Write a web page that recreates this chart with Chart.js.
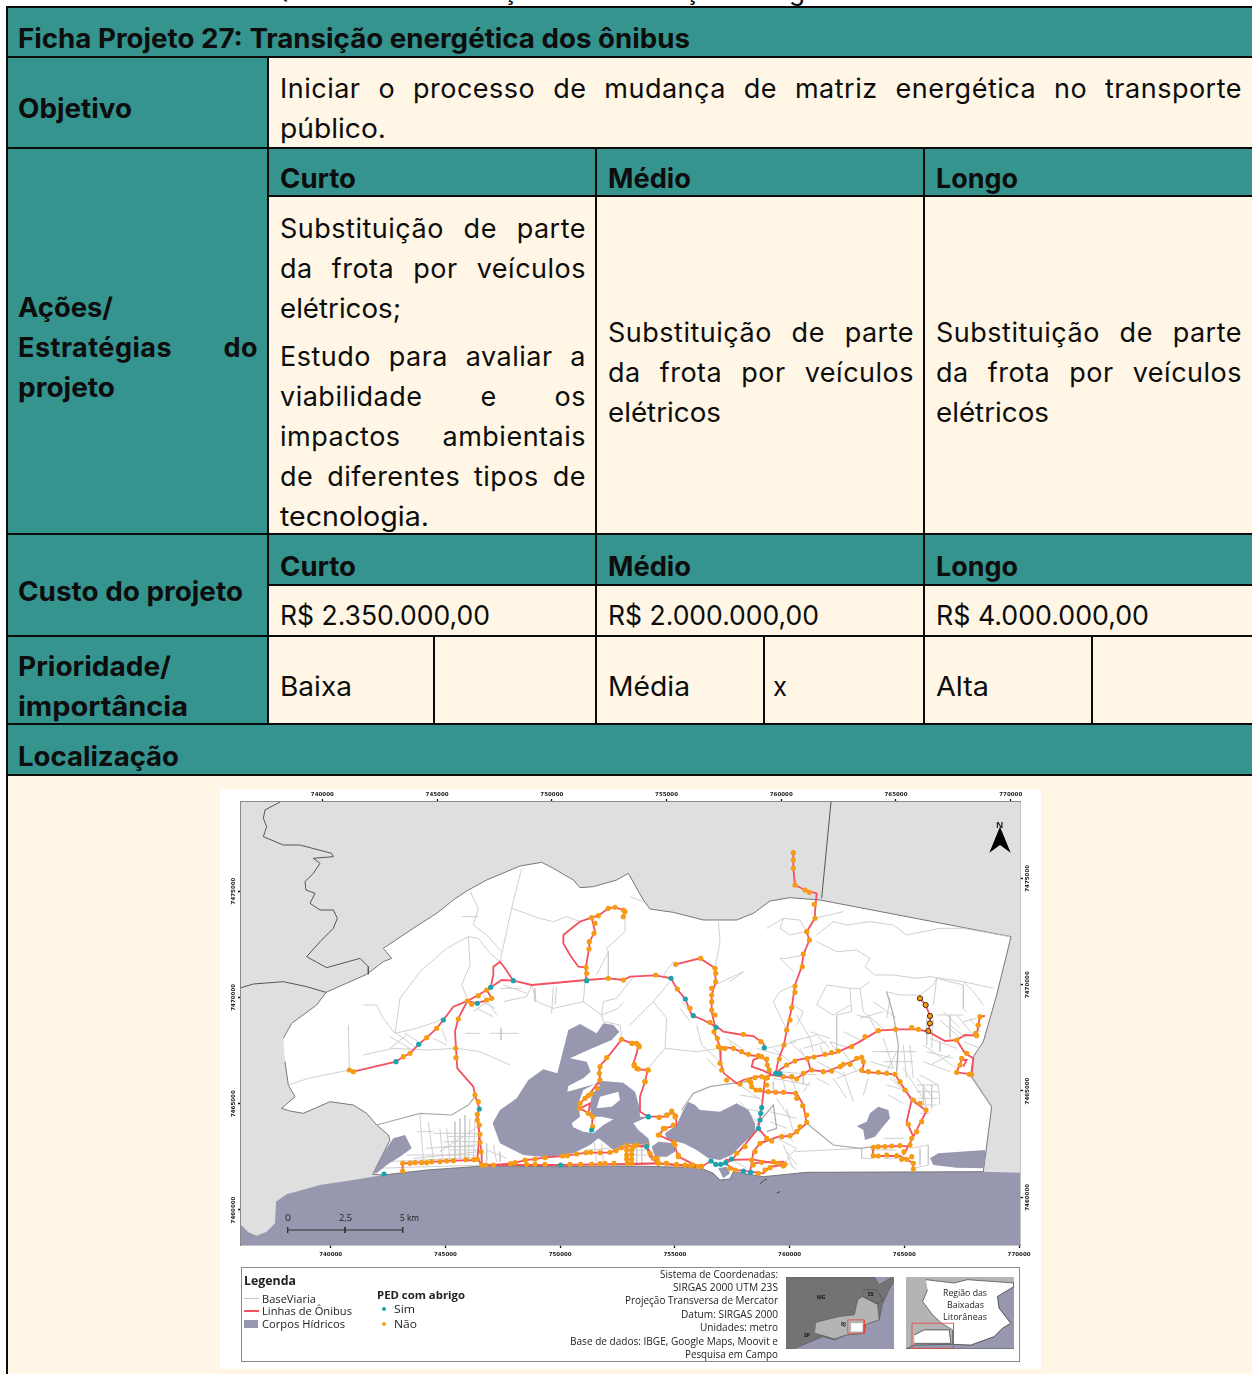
<!DOCTYPE html>
<html lang="pt-BR"><head><meta charset="utf-8"><title>Ficha Projeto 27</title>
<script src="https://cdn.jsdelivr.net/npm/chart.js@4/dist/chart.umd.min.js"></script>
<style>
html,body{margin:0;padding:0;background:#fff;width:1252px;height:1374px;overflow:hidden}
#page{position:relative;width:1252px;height:1374px;overflow:hidden;font-family:Inter,sans-serif;color:#0d0d0d}
.box{position:absolute}.teal{background:#36948f}.cream{background:#fff6e6}.rule{position:absolute;background:#0a0a0a}
.t{position:absolute;white-space:nowrap;font-size:27px;line-height:32px;transform-origin:left center;margin-top:-16px}
.b{font-weight:700;margin-top:-15px}.j{text-align:justify;text-align-last:justify;white-space:normal;letter-spacing:.5px}
#panel{position:absolute;left:220px;top:789px;width:821px;height:580px;background:#fff;filter:blur(.4px)}
#panel canvas{position:absolute}
.m{position:absolute;white-space:nowrap;font-family:"Open Sans",sans-serif;font-size:11px;line-height:14px;margin-top:-7px;color:#222;transform-origin:left center}
#legendBox{position:absolute;left:21px;top:478px;width:779px;height:95px;box-sizing:border-box;border:1.5px solid #8a8a8a;border-left-width:1px;border-right-width:1px;background:#fff}
#sliver{position:absolute;left:0;top:0;width:1252px;height:6px;overflow:hidden}
#sliver span{position:absolute;top:-25px;font-size:26px;line-height:32px}
</style></head><body><div id="page">
<div id="sliver"><span style="left:270px">Q</span><span style="left:502px">ç</span><span style="left:684px">ç</span><span style="left:789px">g</span></div>
<div class="box teal" style="left:7px;top:7px;width:1245px;height:768px"></div>
<div class="box cream" style="left:268px;top:57px;width:984px;height:91px"></div>
<div class="box cream" style="left:268px;top:196px;width:984px;height:338px"></div>
<div class="box cream" style="left:268px;top:585px;width:984px;height:139px"></div>
<div class="box cream" style="left:7px;top:775px;width:1245px;height:599px"></div>
<div id="rules"></div>

<div class="t b" data-w="672" style="left:18px;top:38px">Ficha Projeto 27: Transição energética dos ônibus</div>
<div class="t b" data-w="114" style="left:18px;top:108px">Objetivo</div>
<div class="t j" style="left:280px;top:89px;width:962px">Iniciar o processo de mudança de matriz energética no transporte</div>
<div class="t" data-w="106" style="left:280px;top:129px">público.</div>
<div class="t b" data-w="95" style="left:18px;top:307px">Ações/</div>
<div class="t b j" style="left:18px;top:347px;width:240px">Estratégias do</div>
<div class="t b" data-w="97" style="left:18px;top:387px">projeto</div>
<div class="t b" data-w="76" style="left:280px;top:178px">Curto</div>
<div class="t b" data-w="83" style="left:608px;top:178px">Médio</div>
<div class="t b" data-w="82" style="left:936px;top:178px">Longo</div>
<div class="t j" style="left:280px;top:229px;width:306px">Substituição de parte</div>
<div class="t j" style="left:280px;top:269px;width:306px">da frota por veículos</div>
<div class="t" data-w="121" style="left:280px;top:309px">elétricos;</div>
<div class="t j" style="left:280px;top:357px;width:306px">Estudo para avaliar a</div>
<div class="t j" style="left:280px;top:397px;width:306px">viabilidade e os</div>
<div class="t j" style="left:280px;top:437px;width:306px">impactos ambientais</div>
<div class="t j" style="left:280px;top:477px;width:306px">de diferentes tipos de</div>
<div class="t" data-w="149" style="left:280px;top:517px">tecnologia.</div>
<div class="t j" style="left:608px;top:333px;width:306px">Substituição de parte</div>
<div class="t j" style="left:608px;top:373px;width:306px">da frota por veículos</div>
<div class="t" data-w="113" style="left:608px;top:413px">elétricos</div>
<div class="t j" style="left:936px;top:333px;width:306px">Substituição de parte</div>
<div class="t j" style="left:936px;top:373px;width:306px">da frota por veículos</div>
<div class="t" data-w="113" style="left:936px;top:413px">elétricos</div>
<div class="t b" data-w="225" style="left:18px;top:591px">Custo do projeto</div>
<div class="t b" data-w="76" style="left:280px;top:566px">Curto</div>
<div class="t b" data-w="83" style="left:608px;top:566px">Médio</div>
<div class="t b" data-w="82" style="left:936px;top:566px">Longo</div>
<div class="t" data-w="210" style="left:280px;top:616px">R$ 2.350.000,00</div>
<div class="t" data-w="211" style="left:608px;top:616px">R$ 2.000.000,00</div>
<div class="t" data-w="213" style="left:936px;top:616px">R$ 4.000.000,00</div>
<div class="t b" data-w="153" style="left:18px;top:666px">Prioridade/</div>
<div class="t b" data-w="170" style="left:18px;top:706px">importância</div>
<div class="t" data-w="72" style="left:280px;top:687px">Baixa</div>
<div class="t" data-w="82" style="left:608px;top:687px">Média</div>
<div class="t" data-w="14" style="left:773px;top:687px">x</div>
<div class="t" data-w="53" style="left:936px;top:687px">Alta</div>
<div class="t b" data-w="161" style="left:18px;top:756px">Localização</div>

<div id="panel">
  <div id="legendBox"></div>
  <canvas id="map" width="821" height="580" style="left:0;top:0"></canvas>
  <canvas id="inset1" width="108" height="72" style="left:566px;top:488px"></canvas>
  <canvas id="inset2" width="108" height="72" style="left:686px;top:488px"></canvas>
  <div class="m" style="left:776px;top:36px;font-size:9px;font-weight:700">N</div>
  <div class="m" data-w="6" style="left:65px;top:429px;font-size:9px">0</div>
  <div class="m" data-w="13" style="left:119px;top:429px;font-size:9px">2,5</div>
  <div class="m" data-w="19" style="left:180px;top:429px;font-size:9px">5 km</div>

  <div class="m" data-w="52" style="left:24px;top:491px;font-weight:700;font-size:13px">Legenda</div>
  <div class="m" data-w="54" style="left:42px;top:510px">BaseViaria</div>
  <div class="m" data-w="90" style="left:42px;top:522px">Linhas de Ônibus</div>
  <div class="m" data-w="83" style="left:42px;top:535px">Corpos Hídricos</div>
  <div class="box" style="left:24px;top:509px;width:15px;height:1px;background:#c4c4c4"></div>
  <div class="box" style="left:24px;top:521px;width:15px;height:2px;background:#f4505f"></div>
  <div class="box" style="left:24px;top:531px;width:14px;height:8px;background:#9797b0"></div>
  <div class="m" data-w="88" style="left:157px;top:506px;font-weight:700">PED com abrigo</div>
  <div class="m" data-w="21" style="left:174px;top:520px">Sim</div>
  <div class="m" data-w="23" style="left:174px;top:535px">Não</div>
  <div class="box" style="left:162px;top:518px;width:4px;height:4px;border-radius:50%;background:#1aa3b0"></div>
  <div class="box" style="left:162px;top:533px;width:4px;height:4px;border-radius:50%;background:#f59c14"></div>
  <div class="m" data-w="118" style="left:440px;top:485px;font-size:10px">Sistema de Coordenadas:</div>
  <div class="m" data-w="105" style="left:453px;top:498px;font-size:10px">SIRGAS 2000 UTM 23S</div>
  <div class="m" data-w="153" style="left:405px;top:511px;font-size:10px">Projeção Transversa de Mercator</div>
  <div class="m" data-w="97" style="left:461px;top:525px;font-size:10px">Datum: SIRGAS 2000</div>
  <div class="m" data-w="78" style="left:480px;top:538px;font-size:10px">Unidades: metro</div>
  <div class="m" data-w="208" style="left:350px;top:552px;font-size:10px">Base de dados: IBGE, Google Maps, Moovit e</div>
  <div class="m" data-w="93" style="left:465px;top:565px;font-size:10px">Pesquisa em Campo</div>
  <div class="m" data-w="44" style="left:723px;top:504px;font-size:9px">Região das</div>
  <div class="m" data-w="37" style="left:727px;top:516px;font-size:9px">Baixadas</div>
  <div class="m" data-w="44" style="left:723px;top:528px;font-size:9px">Litorâneas</div>
  <div class="m" style="left:597px;top:508px;font-size:5px;font-weight:700;color:#111">MG</div>
  <div class="m" style="left:648px;top:505px;font-size:5px;font-weight:700;color:#111">ES</div>
  <div class="m" style="left:621px;top:535px;font-size:5px;font-weight:700;color:#111">RJ</div>
  <div class="m" style="left:584px;top:546px;font-size:5px;font-weight:700;color:#111">SP</div>
</div>
</div>
<script>
/* ---------- digitised map sheet coordinates (1 unit = 1/3 reference pixel) ---------- */
const plotFrame=[[63,51],[2400,51],[2400,1380],[63,1380]];
const seaArea=[[63,1320],[85,1342],[110,1352],[140,1340],[165,1315],[168,1250],[200,1228],[300,1200],[400,1185],[490,1170],[620,1155],[790,1143],[1000,1145],[1230,1143],[1440,1148],[1480,1165],[1500,1185],[1530,1182],[1540,1160],[1630,1175],[1760,1162],[2290,1160],[2400,1163],[2400,1380],[63,1380]];
const municipality=[[190,760],[215,715],[290,660],[318,622],[440,568],[490,530],[515,520],[490,490],[580,430],[650,385],[700,345],[740,318],[800,285],[900,243],[965,232],[1000,250],[1060,285],[1080,308],[1120,305],[1190,285],[1225,265],[1270,345],[1290,372],[1360,382],[1450,405],[1550,405],[1600,385],[1650,348],[1710,338],[1800,345],[2373,455],[2330,630],[2290,770],[2260,815],[2252,870],[2315,965],[2290,1160],[1760,1162],[1630,1175],[1540,1160],[1530,1182],[1500,1185],[1480,1165],[1440,1148],[1230,1143],[1000,1145],[790,1143],[620,1155],[490,1170],[458,1168],[510,1065],[505,1050],[470,1020],[440,985],[400,960],[330,950],[250,985],[210,978],[185,970],[225,935],[205,900],[195,830]];
const boundaryNorth=[[180,51],[135,75],[130,100],[140,125],[130,155],[190,180],[240,180],[335,205],[340,215],[280,220],[300,235],[280,265],[255,290],[258,315],[285,325],[270,355],[300,375],[340,375],[352,400],[340,430],[300,470],[260,515],[320,548],[420,520],[445,545],[445,568]];
const boundaryWest=[[63,608],[100,597],[190,590],[260,605],[318,622]];
const boundaryEast=[[1833,51],[1805,340]];
const coastIslets=[[1620,1197],[1630,1187],[1640,1182]];
const coastIslets2=[[1670,1224],[1680,1220]];

/* water bodies */
const lagoonCentral=[[38,340],[60,300],[110,265],[145,210],[190,178],[232,190],[265,60],[300,42],[350,70],[370,40],[400,45],[418,65],[395,90],[330,118],[270,145],[320,155],[332,185],[310,205],[265,228],[262,245],[345,222],[360,212],[430,218],[465,245],[478,290],[480,320],[505,320],[460,340],[475,360],[505,385],[510,405],[440,402],[400,420],[375,400],[355,385],[330,405],[280,430],[200,442],[130,435],[60,400]];
const lagoonEast=[[555,370],[590,345],[610,300],[625,275],[645,285],[660,300],[720,305],[770,280],[805,300],[825,340],[825,370],[790,400],[755,435],[720,450],[685,445],[650,420],[610,400],[590,395],[560,385]];
const lagoonSmall=[[515,410],[535,395],[585,400],[585,425],[560,440],[525,440]];
const lagoonCape=[[715,475],[740,470],[750,490],[730,505]];
const islandStrip=[[295,280],[300,320],[275,340],[280,352],[310,365],[340,370],[370,345],[400,328],[365,320],[335,320],[330,290],[335,255],[360,225],[345,222],[310,240]];
const islandInner=[[350,295],[360,260],[415,245],[420,270],[395,290]];
const lagoonWest=[[458,1165],[490,1105],[520,1060],[555,1050],[575,1090],[540,1115],[500,1140],[470,1165]];
const lagoonInland=[[1910,1023],[1940,1010],[1950,985],[1975,965],[2005,975],[2010,1000],[1985,1030],[1965,1055],[1935,1065],[1930,1035]];
const lagoonShore=[[2130,1120],[2155,1105],[2220,1100],[2295,1095],[2295,1125],[2290,1150],[2210,1148],[2140,1140]];

/* roads */
const roadsWest=[
[[205,900],[265,880],[388,855]],[[385,720],[388,855]],[[430,660],[470,660],[490,700],[525,745],[590,730],[650,710],[670,700]],
[[525,745],[540,640],[600,560],[680,490],[745,455],[775,460],[810,505],[840,530]],[[745,455],[750,540],[725,600],[745,648]],
[[840,530],[875,370],[905,250]],[[875,370],[960,400],[1000,410],[1040,395],[1080,410]],[[750,320],[775,370],[760,420],[800,450],[845,500]],
[[725,395],[775,395]],[[430,810],[520,790],[620,795],[710,790],[780,800],[870,840]],
[[735,745],[780,745]],[[810,745],[895,745]],[[843,730],[843,765]],
[[935,600],[950,650],[1000,670],[1090,650],[1145,690],[1150,710],[1200,720],[1205,760]],[[1095,590],[1090,650]],
[[1000,605],[995,685]],[[1010,605],[1005,660]],[[945,610],[945,650]],[[850,650],[920,635],[935,600]],
[[1240,575],[1190,640],[1150,650],[1145,690]],[[1130,570],[1165,500],[1160,490],[1215,440],[1215,400]],[[1165,500],[1165,580]],[[1145,690],[1195,670],[1210,650]],
[[510,755],[585,800]],[[530,745],[590,790]],[[555,745],[610,780]],[[510,790],[560,750]],[[640,760],[680,780]],[[665,730],[680,770]],
[[770,670],[820,695]],[[785,650],[825,670]],[[790,630],[830,690]],[[760,680],[800,650]],[[840,610],[905,610]],[[850,600],[920,625]],
[[600,990],[610,1130]],[[640,1045],[780,1045]],[[680,1030],[690,1125]],[[720,1000],[720,1120]],[[750,1000],[745,1125]],[[670,1070],[780,1070]],[[690,1095],[770,1095]],[[590,1040],[640,1040]],[[800,1095],[860,1120]],[[820,1080],[830,1130]],[[560,1110],[770,1110]],[[470,1150],[790,1140]],[[500,1130],[760,1118]],[[660,1100],[780,1020]],[[705,1010],[705,1130]],[[735,990],[735,1120]],[[670,1085],[760,1085]],[[680,1055],[770,1055]],[[1120,1060],[1130,1130]],[[1100,1095],[1170,1090]],[[1145,1075],[1150,1130]],
[[625,1010],[640,1120]],[[660,1030],[668,1125]],[[765,1010],[760,1125]],[[620,1090],[770,1080]],[[580,1120],[780,1100]],[[800,1075],[800,1130]],[[840,1100],[840,1130]],[[1230,1095],[1280,1095]],[[1240,1110],[1280,1110]],[[1250,1085],[1250,1135]],[[1265,1085],[1265,1135]]
];
const roadsEast=[
[[265,410],[270,470],[255,550]],[[0,335],[40,350]],[[130,530],[100,570],[120,580]],[[255,600],[340,560],[300,590]],
[[120,590],[70,650],[0,720]],[[70,650],[110,700],[105,790],[50,855]],[[200,720],[215,780],[270,830]],[[105,790],[200,800],[270,790]],
[[470,735],[430,650],[450,620],[495,600]],[[520,510],[470,520],[450,520],[490,560]],[[410,430],[460,400],[510,405],[530,440]],[[460,400],[450,430],[480,450],[525,440]],
[[555,400],[640,380]],[[560,450],[610,410],[650,420],[720,410],[790,420],[830,450],[930,430],[1000,430],[1140,455]],
[[560,470],[620,500],[680,495],[720,520],[705,545],[735,570],[790,570],[860,580],[900,575],[1000,590],[1090,610]],
[[590,600],[660,610],[690,610],[720,590]],[[590,600],[560,660],[610,690],[660,660]],[[660,610],[665,680],[620,690],[620,800]],[[690,610],[700,680],[770,740]],
[[770,620],[810,630],[870,630],[910,600],[920,580],[910,660]],[[920,580],[1000,600],[1000,670],[1010,680]],[[1000,590],[1030,620],[1060,660]],
[[490,660],[520,680],[500,720]],[[480,770],[560,750],[600,790]],[[520,790],[590,770]],[[540,760],[550,800]],[[680,690],[720,700],[740,740]],
[[870,870],[925,900],[930,960]],[[860,900],[925,900]],[[860,920],[925,920]],[[865,940],[925,940]],[[875,960],[920,960]],[[870,985],[900,985]],[[880,900],[890,985]],[[905,900],[905,970]],
[[760,800],[860,800]],[[760,830],[850,830]],[[770,860],[800,800]],[[770,900],[840,920]],[[780,880],[850,940]],[[820,780],[830,880]],[[840,780],[850,880]],
[[900,760],[980,790]],[[890,800],[970,820]],[[920,690],[1000,690]],[[940,680],[990,730]],[[960,690],[960,760]],[[1000,770],[1050,790]],
[[610,880],[650,940]],[[640,860],[670,950]],[[715,880],[700,930]],[[560,880],[600,900]],
[[495,1100],[690,1090]],[[695,1090],[695,1120],[730,1120]],[[840,1090],[895,1080],[895,1140],[850,1150]],[[760,1060],[820,1060]],
[[440,1060],[500,1090],[470,1120]],[[470,1100],[500,1140]],[[460,1080],[490,1150]],
[[330,900],[400,950]],[[430,880],[540,900]],[[450,860],[560,870]],[[430,890],[430,925]],[[460,890],[470,925]],[[520,860],[520,900]],[[410,790],[500,770]],[[380,790],[450,810]],[[300,770],[310,800]],
[[440,940],[480,1000]],[[420,980],[500,1000]],[[470,970],[490,1040]],[[330,950],[380,1010]],[[300,1120],[350,1150]],[[430,1150],[480,1120]],[[470,1130],[500,1155]],
[[790,880],[880,970]],[[775,930],[820,955]],[[820,850],[880,940]],[[860,880],[910,940]],[[880,900],[880,960]],[[930,770],[930,800]],[[960,720],[1010,760]],[[980,690],[1030,750]],[[510,790],[530,830]],[[570,780],[580,810]],[[600,770],[620,800]],[[480,870],[500,920]],[[540,890],[520,920]],[[330,930],[390,940]],[[340,970],[395,980]],[[350,1020],[390,1040]],[[420,1010],[470,1030]],[[460,1040],[490,1070]],[[720,1095],[800,1095]],[[760,1120],[840,1120]],[[870,1090],[870,1140]],[[150,670],[180,710]],[[155,650],[200,700]],[[290,760],[335,790]],[[230,820],[260,850]],
[[430,790],[480,830]],[[480,770],[520,810]],[[500,690],[540,760]],[[540,740],[600,760]],[[600,770],[660,790]],[[640,740],[700,770]],[[560,830],[640,870]],[[640,800],[680,860]],[[620,880],[700,850]],[[720,830],[790,850]],[[725,800],[790,800]],[[760,760],[790,850]],[[780,640],[770,700]],[[730,650],[800,700]],[[690,700],[760,680]],[[890,700],[890,780]],[[910,700],[905,790]],[[930,705],[990,760]],[[880,780],[980,850]],[[880,830],[960,860]],[[900,840],[960,810]],[[1020,700],[1050,740]],[[1000,710],[1040,700]]
];
const roadsMain=[[[470,1020],[600,985],[695,990],[745,960],[765,935]]];
const roadsMainEast=[[[530,1015],[610,1080],[690,1090],[730,1085]],[[155,975],[190,925],[240,905],[305,895],[350,890]],[[1020,870],[1085,965]],[[770,620],[790,690],[805,780],[800,860]],[[380,1020],[430,960],[440,1030],[410,1040]]];

/* bus lines */
const busLinesWest=[
[[388,855],[400,860],[528,830],[550,815],[570,805],[596,778],[620,758],[650,730],[670,705],[700,665],[742,648],[770,655],[815,640],[800,615],[775,630],[742,648]],
[[812,607],[820,570],[820,545],[840,530],[855,550],[880,587]],
[[800,615],[815,605],[845,585],[880,587],[935,600],[1100,585],[1165,580],[1210,585],[1230,575],[1307,571],[1353,580],[1371,612],[1396,642],[1415,690],[1450,705],[1487,725]],
[[742,648],[715,700],[705,740],[708,790],[712,850],[760,905],[765,930],[778,970],[772,990],[778,1050],[785,1110],[785,1140]],
[[772,990],[778,1050],[772,1125]],
[[548,1158],[548,1135],[700,1127],[775,1125],[785,1140],[820,1140],[875,1135],[920,1125],[975,1118],[1040,1112],[1100,1103],[1170,1103],[1190,1095],[1220,1083],[1280,1083],[1300,1120],[1315,1135],[1370,1140],[1435,1145],[1450,1145]],
[[785,1140],[880,1140],[1020,1140],[1230,1137],[1315,1135]],
[[1220,1083],[1220,1137]],[[1235,1083],[1235,1137]],
[[1115,1035],[1118,995],[1105,985],[1110,955],[1080,970],[1105,985]],
[[1080,955],[1110,925],[1140,885],[1138,845],[1160,820],[1205,763],[1235,775],[1255,780],[1250,805],[1240,835],[1255,853],[1283,855],[1275,890],[1260,935],[1260,980],[1285,995],[1340,995],[1355,980],[1367,990],[1370,1020],[1335,1030],[1315,1050],[1360,1070],[1375,1115],[1435,1145]],
[[1100,585],[1098,545],[1107,490],[1108,470],[1125,440],[1115,398],[1135,392],[1165,370],[1185,367],[1210,375],[1215,380],[1210,395]],
[[1115,398],[1080,410],[1030,450],[1030,475],[1050,510],[1075,545],[1098,547]]
];
const busLinesEast=[
[[137,538],[210,520],[255,550],[257,590],[245,630],[245,680],[255,725]],
[[255,720],[280,740],[340,750],[370,753],[400,775],[405,790]],
[[252,740],[270,785],[310,790],[355,810],[395,815],[410,830],[415,855],[425,870]],
[[270,785],[272,835],[282,865],[320,895],[340,885],[380,875],[410,875],[425,870]],
[[395,815],[370,825],[365,845],[400,857],[425,870]],
[[490,203],[490,250],[495,300],[525,315],[560,325],[555,380],[555,400],[530,440],[538,465],[520,510],[515,545],[495,600],[485,670],[470,735],[462,780],[445,825],[437,865]],
[[435,865],[470,840],[500,825],[555,815],[620,803],[680,775],[745,737],[800,733],[860,733],[895,740],[945,768],[980,765],[1005,750],[1040,752],[1045,720],[1050,695],[1065,693]],
[[980,765],[1005,805],[1030,820],[1025,868],[980,862],[995,825],[1010,825],[1000,845]],
[[870,640],[887,660],[900,693],[900,715],[895,738]],
[[425,870],[460,875],[500,880],[540,855],[590,860],[640,840],[695,817],[702,835],[695,860],[795,868],[845,945],[890,977],[870,1015],[850,1055],[835,1083],[730,1085],[728,1113],[810,1113],[850,1135],[850,1153]],
[[532,820],[542,855]],[[845,945],[830,1010],[850,1055]],[[835,1083],[820,1110]],
[[405,880],[395,970],[385,1030],[340,1085],[305,1125],[285,1135],[262,1140],[243,1128],[215,1145],[190,1140],[140,1140],[85,1135],[60,1115],[50,1085],[0,1083]],
[[85,1135],[0,1137]],
[[360,880],[370,910],[400,920],[500,925],[520,960],[530,1015],[500,1040],[480,1053],[445,1055],[390,1075],[370,1100],[365,1135],[360,1160]],
[[385,1030],[415,1065],[390,1075]],
[[285,1125],[365,1123],[465,1140]],[[285,1135],[315,1155],[360,1160],[400,1165],[420,1145],[465,1140]],[[365,1135],[400,1132],[460,1130],[465,1140]]
];

/* PED stops */
const stopsNoWest=[[388,855],[400,860],[550,815],[570,805],[620,758],[650,730],[742,648],[755,658],[800,645],[815,640],[800,615],[775,632],[715,702],[707,790],[708,818],[765,930],[775,950],[772,988],[772,1005],[778,1020],[780,1048],[780,1072],[783,1100],[772,1122],[785,1140],[548,1158],[548,1135],[570,1135],[585,1133],[605,1133],[620,1133],[635,1130],[660,1130],[680,1128],[700,1127],[738,1124],[762,1124],[798,1140],[820,1140],[872,1136],[885,1133],[915,1125],[945,1122],[975,1118],[1028,1113],[1042,1112],[1070,1107],[1098,1103],[1112,1102],[1140,1103],[1170,1102],[1188,1097],[1205,1088],[1222,1081],[1250,1080],[1280,1082],[920,1138],[945,1138],[975,1138],[1050,1138],[1082,1138],[1115,1137],[1140,1136],[1155,1135],[1182,1135],[1222,1135],[1220,1095],[1220,1110],[1220,1122],[1235,1095],[1235,1108],[1235,1122],[1235,1135],[1118,1025],[1118,995],[1105,985],[1080,970],[1080,955],[1095,940],[1105,932],[1115,925],[1132,910],[1140,885],[1138,865],[1140,845],[1160,818],[1205,763],[1235,775],[1255,780],[1243,838],[1255,852],[1283,855],[1275,890],[1335,1030],[1318,1050],[1362,1072],[1375,1115],[1317,997],[1342,990],[1355,978],[1367,993],[1300,1120],[1315,1135],[1338,1135],[1370,1140],[1395,1140],[1412,1142],[1435,1145],[1100,585],[1100,565],[1098,547],[1107,492],[1108,470],[1122,445],[1125,415],[1115,398],[1135,392],[1165,370],[1185,367],[1210,375],[1215,380],[1210,395],[1165,580],[1210,585]];
const stopsNoEast=[[77,570],[142,612],[180,670],[137,538],[212,520],[255,550],[257,565],[257,590],[245,610],[245,630],[245,650],[245,675],[255,690],[490,203],[490,225],[490,250],[495,300],[525,315],[538,322],[553,358],[555,400],[530,440],[538,465],[520,507],[517,545],[495,603],[495,622],[485,668],[480,705],[470,735],[462,780],[448,822],[340,748],[393,770],[240,712],[252,740],[262,760],[265,785],[272,790],[285,790],[310,790],[335,800],[355,808],[385,812],[395,815],[410,822],[412,840],[418,855],[270,835],[275,855],[290,885],[330,897],[355,885],[375,878],[395,875],[412,878],[362,892],[365,905],[378,915],[390,915],[470,840],[495,828],[532,820],[552,816],[585,808],[605,803],[625,798],[665,785],[705,755],[745,737],[797,733],[845,728],[865,733],[460,875],[485,875],[500,882],[520,865],[545,855],[580,860],[605,858],[630,845],[640,838],[660,838],[680,820],[695,817],[700,830],[695,855],[715,860],[745,862],[770,865],[795,868],[810,890],[825,915],[850,945],[870,955],[888,975],[875,1010],[860,1040],[835,1018],[845,1060],[840,1080],[810,1082],[785,1083],[765,1085],[745,1085],[730,1087],[730,1112],[745,1113],[770,1110],[800,1112],[815,1123],[830,1123],[845,1115],[850,1135],[850,1152],[822,1100],[415,920],[437,922],[460,922],[497,925],[500,940],[518,962],[530,990],[530,1012],[510,1025],[500,1040],[480,1052],[455,1055],[425,1068],[390,1075],[375,1100],[365,1125],[370,1140],[395,1132],[430,1130],[445,1135],[465,1138],[460,1143],[420,1148],[405,1155],[385,1165],[345,1085],[320,1105],[410,1060],[315,1155],[300,1150],[215,1143],[188,1140],[165,1140],[140,1138],[110,1135],[85,1133],[82,1120],[60,1105],[145,1110],[135,1080],[85,1050],[100,1030],[130,1020],[135,995],[125,982],[110,990],[88,997],[20,775],[8,775],[28,785],[12,842],[20,850],[55,855],[45,890],[10,1085],[980,765],[1040,752],[1037,745],[1045,720],[1050,695],[1010,805],[1025,868],[1018,868],[980,862],[990,840],[995,820],[407,880],[410,900]];
const stopsOutlined=[[870,640],[887,660],[900,693],[900,715],[895,738]];
const stopsYesWest=[[492,1167],[528,830],[596,778],[670,705],[772,655],[812,607],[880,587],[778,972],[1100,587],[1022,1140],[1115,1035],[1285,995]];
const stopsYesEast=[[123,580],[166,642],[190,692],[258,727],[403,788],[437,865],[450,866],[395,968],[392,985],[390,1005],[385,1030],[305,1122],[287,1133],[272,1138],[257,1138],[243,1128],[340,1158],[362,1162],[50,1085],[55,995]];

/* scale bar and north arrow */
const scaleBar=[[203,1335],[548,1335]];
const scaleTicks=[[[203,1326],[203,1344]],[[375,1326],[375,1344]],[[548,1326],[548,1344]]];
const northArrow=[[1110,125],[1078,203],[1110,180],[1142,203]];

/* inset maps, in inset sheet units */
const inset1Frame=[[18,37],[345,37],[345,252],[18,252]];
const inset1Dark=[[18,37],[285,37],[300,60],[340,37],[345,50],[330,75],[310,118],[300,165],[260,178],[255,205],[200,210],[165,225],[130,215],[105,225],[70,240],[40,252],[18,252]];
const inset1Light=[[110,172],[180,155],[225,150],[235,105],[250,95],[295,118],[300,165],[255,180],[255,205],[200,210],[165,222],[130,212],[105,205]];
const inset1ES=[[250,75],[292,75],[312,105],[295,118],[250,95]];
const inset1Site=[[215,175],[250,175],[250,200],[215,200]];
const inset1Mark=[[205,165],[255,165],[255,205],[205,205],[205,165]];
const inset2Frame=[[375,37],[700,37],[700,252],[375,252]];
const inset2Sea=[[700,65],[650,95],[655,130],[690,175],[665,190],[640,215],[570,240],[515,238],[400,240],[375,252],[700,252]];
const inset2Region=[[435,45],[520,55],[560,45],[700,55],[700,65],[650,95],[655,130],[690,175],[665,190],[640,215],[570,240],[515,238],[515,195],[482,175],[455,150],[425,110],[440,75]];
const inset2Site=[[400,210],[430,195],[505,195],[510,235],[400,235]];
const inset2Mark=[[393,175],[518,175],[518,250],[393,250],[393,175]];

/* ---------- table rules ---------- */
const hRules=[[7,7,1252],[57,7,1252],[148,7,1252],[196,268,1252],[534,7,1252],[585,268,1252],[636,7,1252],[724,7,1252],[775,7,1252]];
const vRules=[[7,7,1374],[268,57,724],[596,148,724],[924,148,724],[434,636,724],[764,636,724],[1092,636,724]];
const rulesEl=document.getElementById('rules');
hRules.forEach(([y,a,b])=>rulesEl.insertAdjacentHTML('beforeend',`<div class="rule" style="left:${a-1}px;top:${y-1}px;width:${b-a+2}px;height:2.2px"></div>`));
vRules.forEach(([x,a,b])=>rulesEl.insertAdjacentHTML('beforeend',`<div class="rule" style="left:${x-1}px;top:${a-1}px;width:2.2px;height:${b-a+2}px"></div>`));
document.querySelectorAll('[data-w]').forEach(el=>{
  const w=+el.dataset.w;const actual=el.getBoundingClientRect().width;
  if(actual>0) el.style.transform=`scaleX(${w/actual})`;
});

/* ---------- sheet to UTM ---------- */
const E=x=>740000+(x-332)*5000/344.2;
const N=y=>7460000+(1275-y)*5000/319;
const at=(pts,dx=0,dy=0)=>pts.map(([x,y])=>({x:E(x+dx),y:N(y+dy)}));
const EAST=1230,CX=780,CY=675;

const poly=(data,color,border='transparent',bw=0)=>({data,showLine:true,fill:'shape',backgroundColor:color,borderColor:border,borderWidth:bw,pointRadius:0,tension:0});
const line=(data,color,w,dash)=>({data,showLine:true,fill:false,borderColor:color,borderWidth:w,borderDash:dash||[],pointRadius:0,tension:0});
const dots=(data,color,r,border,bw)=>({data,showLine:false,backgroundColor:color,pointBackgroundColor:color,pointBorderColor:border||color,pointBorderWidth:bw||0,pointRadius:r,pointHoverRadius:r});

const ROAD='#cacaca',ROADM='#a9a9a9',WATER='#9797b0',BUS='#f4505f',NO='#f59c14',YES='#1aa3b0';
const layers=[
 poly(at(plotFrame),'#dfdfdf'),
 poly(at(seaArea),WATER),
 poly(at(municipality),'#ffffff','#6a6a6a',.9),
 line(at(boundaryNorth),'#555',1),line(at(boundaryWest),'#555',1),line(at(boundaryEast),'#555',1),
 line(at(coastIslets),'#444',1),line(at(coastIslets2),'#444',1),
 ...roadsWest.map(r=>line(at(r),ROAD,.9)),
 ...roadsEast.map(r=>line(at(r,EAST),ROAD,.9)),
 ...roadsMain.map(r=>line(at(r),ROADM,1.2)),
 ...roadsMainEast.map(r=>line(at(r,EAST),ROADM,1.2)),
 poly(at(lagoonCentral,CX,CY),WATER),poly(at(lagoonEast,CX,CY),WATER),poly(at(lagoonSmall,CX,CY),WATER),poly(at(lagoonCape,CX,CY),WATER),
 poly(at(islandStrip,CX,CY),'#fff'),poly(at(islandInner,CX,CY),'#fff'),
 poly(at(lagoonWest),WATER),poly(at(lagoonInland),WATER),poly(at(lagoonShore),WATER),
 ...busLinesWest.map(r=>line(at(r),BUS,1.8)),
 ...busLinesEast.map(r=>line(at(r,EAST),BUS,1.8)),
 dots(at(stopsNoWest),NO,2.6),dots(at(stopsNoEast,EAST),NO,2.6),
 dots(at(stopsOutlined,EAST),NO,2.6,'#3a2a10',1),
 dots(at(stopsYesWest),YES,2.6),dots(at(stopsYesEast,EAST),YES,2.6),
 line(at(scaleBar),'#333',1),...scaleTicks.map(r=>line(at(r),'#333',1)),
 poly(at(northArrow,EAST),'#000')
];
layers.forEach((d,i)=>{d.order=layers.length-i;});

const TICKFONT={size:5.5,weight:'700',family:'"DejaVu Sans",sans-serif'};
const gridTicks=s=>{const v=[];for(let t=Math.ceil(s.min/5000)*5000;t<=s.max;t+=5000)v.push({value:t});s.ticks=v;};
const axis=(pos,min,max,extra)=>Object.assign({type:'linear',position:pos,min,max,
  border:{display:true,color:'#8a8a8a',width:1.5},
  grid:{display:true,drawOnChartArea:false,drawTicks:true,tickLength:3,tickColor:'#111',tickWidth:1.3},
  afterBuildTicks:gridTicks
},extra);
const xTicks=p=>({autoSkip:false,font:TICKFONT,color:'#222',padding:p,maxRotation:0,callback:v=>String(v)});
const yTicks=p=>({autoSkip:false,font:TICKFONT,color:'#222',minRotation:90,maxRotation:90,crossAlign:'center',padding:p,callback:v=>String(v)});

new Chart(document.getElementById('map'),{type:'scatter',data:{datasets:layers},options:{
  responsive:false,animation:false,devicePixelRatio:1,
  layout:{autoPadding:false,padding:{left:0,right:0,top:0,bottom:100}},
  plugins:{legend:{display:false},tooltip:{enabled:false},title:{display:false}},
  events:[],
  scales:{
    x:axis('bottom',E(63),E(2400),{ticks:xTicks(3),afterFit:s=>{s.height=24;}}),
    xTop:axis('top',E(63+25),E(2400+25),{ticks:xTicks(1),afterFit:s=>{s.height=13;}}),
    y:axis('left',N(1380),N(51),{ticks:yTicks(-9),afterFit:s=>{s.width=21;}}),
    yRight:axis('right',N(1380+38),N(51+38),{ticks:yTicks(-9),afterFit:s=>{s.width=21;}})
  }}});

function insetChart(id,datasets,xr,yr){
  datasets.forEach((d,i)=>{d.order=datasets.length-i;});
  new Chart(document.getElementById(id),{type:'scatter',data:{datasets},options:{
    responsive:false,animation:false,devicePixelRatio:1,events:[],
    layout:{autoPadding:false,padding:0},plugins:{legend:{display:false},tooltip:{enabled:false}},
    scales:{x:{display:false,min:xr[0],max:xr[1]},y:{display:false,min:yr[0],max:yr[1],reverse:true}}}});
}
const raw=p=>p.map(([x,y])=>({x,y}));
insetChart('inset1',[
  poly(raw(inset1Frame),WATER),poly(raw(inset1Dark),'#737373','#555',.6),poly(raw(inset1Light),'#b4b4b4','#555',.6),
  poly(raw(inset1ES),'#737373','#444',.6),poly(raw(inset1Site),'#fff'),line(raw(inset1Mark),'#e8453c',.8)
],[18,345],[37,252]);
insetChart('inset2',[
  poly(raw(inset2Frame),'#b4b4b4'),poly(raw(inset2Sea),WATER,'#444',.7),poly(raw(inset2Region),'#fff','#444',.7),
  poly(raw(inset2Site),'#fff','#333',.7),line(raw(inset2Mark),'#e8453c',.8)
],[375,700],[37,252]);
</script></body></html>
